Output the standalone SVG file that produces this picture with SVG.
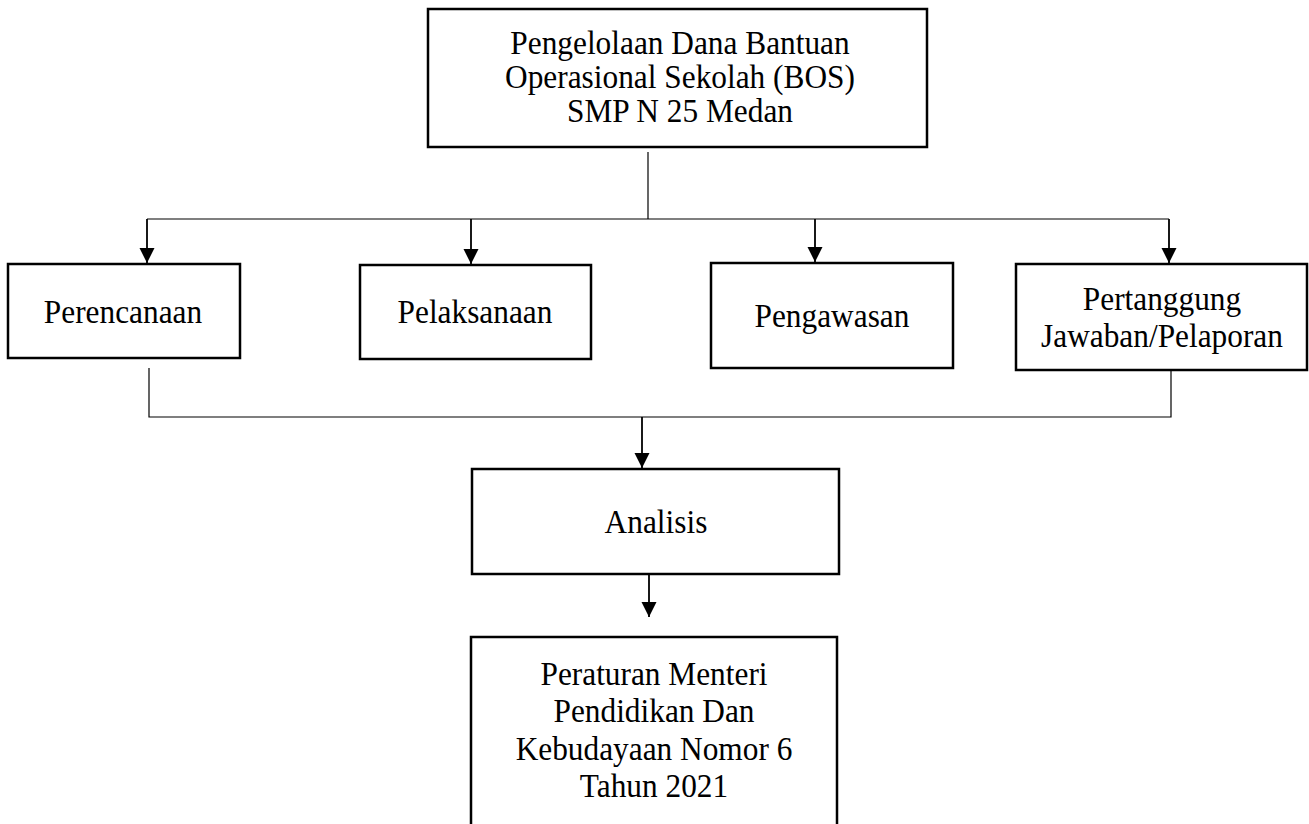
<svg xmlns="http://www.w3.org/2000/svg" width="1309" height="824" viewBox="0 0 1309 824">
<style>
.box{fill:#fff;stroke:#000;stroke-width:2.5}
.t{font-family:"Liberation Serif","Times New Roman",serif;font-size:33px;fill:#000;text-anchor:middle;transform-box:fill-box;transform-origin:center;transform:scaleX(0.95)}
.ln{fill:none;stroke:#000;stroke-width:1.2}
.ar{fill:none;stroke:#000;stroke-width:1.8;marker-end:url(#ah)}
</style>
<defs>
<marker id="ah" markerUnits="userSpaceOnUse" markerWidth="16" markerHeight="16" refX="15" refY="8" orient="auto" viewBox="0 0 16 16">
<path d="M0,0.5 L15,8 L0,15.5 z" fill="#000"/>
</marker>
</defs>
<rect width="1309" height="824" fill="#fff"/>
<g id="connectors">
<line class="ln" x1="648" y1="152" x2="648" y2="219"/>
<line class="ln" x1="147" y1="219" x2="1169" y2="219"/>
<line class="ar" x1="147" y1="219" x2="147" y2="263"/>
<line class="ar" x1="471" y1="219" x2="471" y2="264"/>
<line class="ar" x1="815" y1="219" x2="815" y2="262"/>
<line class="ar" x1="1169" y1="219" x2="1169" y2="263"/>
<polyline class="ln" points="149,368 149,417 1171,417 1171,370"/>
<line class="ar" x1="642" y1="417" x2="642" y2="468"/>
<line class="ar" x1="649" y1="568" x2="649" y2="617"/>
</g>
<g id="root">
<rect class="box" x="428" y="9" width="499" height="138"/>
<text class="t" x="680" y="54">Pengelolaan Dana Bantuan</text>
<text class="t" x="680" y="88">Operasional Sekolah (BOS)</text>
<text class="t" x="680" y="122">SMP N 25 Medan</text>
</g>
<g id="perencanaan">
<rect class="box" x="8" y="264" width="232" height="94"/>
<text class="t" x="123" y="323">Perencanaan</text>
</g>
<g id="pelaksanaan">
<rect class="box" x="360" y="265" width="231" height="94"/>
<text class="t" x="475" y="323">Pelaksanaan</text>
</g>
<g id="pengawasan">
<rect class="box" x="711" y="263" width="242" height="105"/>
<text class="t" x="832" y="327">Pengawasan</text>
</g>
<g id="pertanggungjawaban">
<rect class="box" x="1016" y="264" width="291" height="106"/>
<text class="t" x="1162" y="310">Pertanggung</text>
<text class="t" x="1162" y="347">Jawaban/Pelaporan</text>
</g>
<g id="analisis">
<rect class="box" x="472" y="469" width="367" height="105"/>
<text class="t" x="656" y="533">Analisis</text>
</g>
<g id="peraturan">
<rect class="box" x="471" y="637" width="366" height="200"/>
<text class="t" x="654" y="685">Peraturan Menteri</text>
<text class="t" x="654" y="722">Pendidikan Dan</text>
<text class="t" x="654" y="760">Kebudayaan Nomor 6</text>
<text class="t" x="654" y="797">Tahun 2021</text>
</g>
</svg>
